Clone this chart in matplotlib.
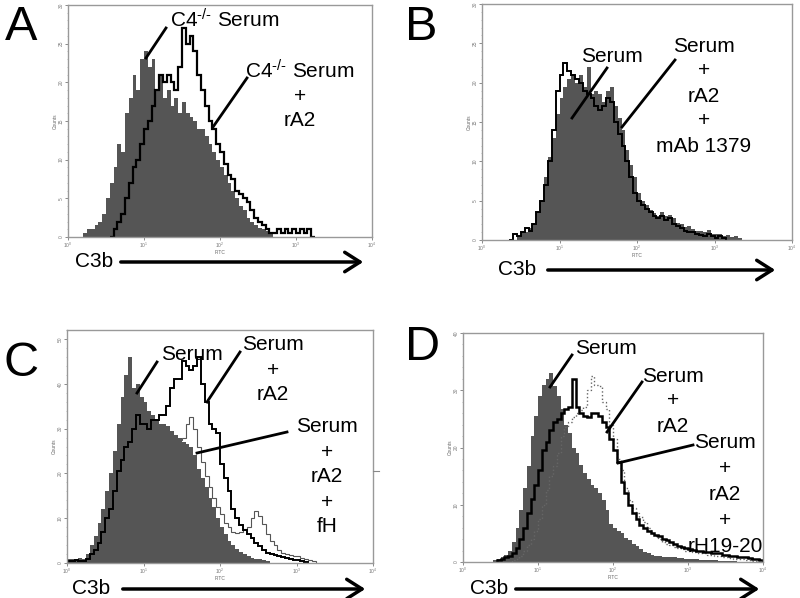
import numpy as np
import matplotlib.pyplot as plt
from matplotlib.lines import Line2D
from matplotlib.patches import FancyArrowPatch
from matplotlib.ticker import FixedLocator, NullLocator, AutoMinorLocator

plt.rcParams['font.family'] = ['Liberation Sans', 'DejaVu Sans']
plt.rcParams['mathtext.fontset'] = 'custom'
plt.rcParams['mathtext.rm'] = 'Liberation Sans'
plt.rcParams['mathtext.it'] = 'Liberation Sans:italic'

BIN = 0.05  # histogram bin width (decades of FITC)

############## DATA (counts per bin) ##############

## Panel A: C4-/- serum (filled) vs C4-/- serum + rA2 (black line)
a_fill_start = 0.20
a_fill = [0.5, 1, 1, 1.5, 2, 3, 5, 7, 9, 12, 11, 16, 18, 21, 19, 23, 24, 22, 23, 19,
          21, 18, 19, 17, 18, 16, 17.5, 16, 15.5, 15, 14, 14, 13, 12, 11, 10, 9, 8, 7, 6,
          5, 4, 3.5, 2.5, 2, 1.5, 1.2, 1, 0.8, 0.5]
a_line_start = 0.55
a_line = [0, 1, 2, 3, 5, 7, 9, 10, 12, 14, 15, 17, 19, 21, 20, 21, 20, 19, 22, 27,
          25, 26, 24, 21, 19, 17, 15, 14, 12, 11, 9.5, 8, 7.5, 6, 5.5, 5, 4.5, 3.5, 2.5, 2,
          1.5, 1, 0.5, 0.5, 1, 0.5, 1, 0.5, 1, 0.5, 1, 0.5, 1, 0]

## Panel B: serum (filled) vs serum + rA2 + mAb 1379 (black line)
b_fill_start = 0.45
b_fill = [0.5, 1, 1, 1.5, 2, 3.5, 5, 8, 10.5, 13, 16, 18, 19.5, 20.5, 21, 20, 21, 19.5, 22, 18.5,
          19, 18.5, 17.5, 19, 19.5, 17, 15.5, 14, 11.5, 9.5, 8, 6, 5, 4.5, 3.8, 3.4, 3, 3.5, 3, 3.2,
          2.8, 2.2, 2, 1.6, 1.8, 1.4, 1.2, 1.2, 1, 1.3, 0.8, 0.7, 0.8, 0.5, 0.6, 0.4, 0.5, 0.3]
b_line_start = 0.35
b_line = [0, 0.8, 0.5, 1, 1.5, 1.2, 2, 3.5, 5, 7, 10, 14, 19, 21, 22.5, 21.5, 21, 20.5, 20, 19,
          18.5, 18, 17, 16.5, 17, 18, 17.5, 15, 13.5, 12, 10, 8, 6, 5, 4.5, 4, 3.5, 3, 2.8, 3,
          2.5, 2.8, 2, 1.8, 1.5, 1.2, 1, 1, 0.8, 0.6, 0.5, 0.8, 0.5, 0.3, 0.5, 0.2]

## Panel C: serum (filled), serum + rA2 (black), serum + rA2 + fH (grey)
c_fill_start = 0.00
c_fill = [0.8, 1, 0.8, 1.2, 1, 2, 4, 6, 9, 12, 16, 20, 25, 31, 37, 42, 46, 39, 40, 37,
          36, 34, 33, 32, 31, 31, 30.5, 29.5, 28.5, 28, 27, 26.5, 26, 24, 21, 19, 17, 14.5, 12.5, 10,
          8, 6.5, 5, 4, 3.2, 2.5, 2, 1.5, 1.2, 1, 0.8, 0.6, 0.4]
c_rA2_start = 0.00
c_rA2 = [0.5, 0.4, 0.6, 0.5, 0.5, 1, 2, 3, 4.5, 7, 10, 12, 16, 20.5, 23, 26, 27, 30, 33, 31,
         31, 30, 32, 32, 33, 33, 35, 39, 41, 41, 45, 44, 43, 44, 46, 40, 36, 31, 30, 29,
         22, 19, 16, 12, 10, 8.5, 7.4, 6.5, 5.5, 4.5, 3.8, 3, 2.2, 2, 1.8, 1.5, 1.4, 1.2, 1, 0.7,
         0.6, 0.4, 0.2]
c_fH_start = 0.30
c_fH = [1, 2, 3.5, 5, 7, 10, 12.5, 17, 21, 24, 26, 27.5, 29, 30, 30.5, 31, 31, 30.5, 30, 29,
        28.5, 28, 27.5, 27.5, 28, 31, 32.5, 30, 26, 22.5, 19.5, 17, 14.5, 12.5, 11, 9, 8, 7, 6.7, 7,
        7.5, 8, 10, 11.6, 10.5, 8.7, 6.5, 5, 4, 3, 2.2, 2, 1.8, 1.6, 1.5, 1.2, 1, 0.7, 0.4]

## Panel D: serum (filled), serum + rA2 (black), serum + rA2 + rH19-20 (dotted)
d_fill_start = 0.40
d_fill = [0.3, 0.5, 0.8, 1.2, 2, 3.5, 6, 9, 13, 16.7, 22, 25.5, 29, 31, 32, 33, 30.8, 29, 26.7, 24,
          22.6, 20, 19, 17, 15.5, 14.5, 13.5, 13, 12, 10.8, 9, 6.7, 6, 5.5, 5, 4.2, 3.8, 3.2, 2.8, 2.2,
          1.8, 1.5, 1.3, 1.1, 1, 0.9, 0.9, 0.8, 0.8, 0.7, 0.7, 0.6, 0.6, 0.5, 0.5, 0.4, 0.4, 0.3, 0.3, 0.3,
          0.2, 0.2, 0.2, 0.2, 0.1]
d_rA2_start = 0.45
d_rA2 = [0.3, 0.5, 0.8, 1, 1.5, 2.5, 4, 6, 8.5, 11, 13.5, 16, 19.5, 21, 23, 24.4, 25, 26, 26.7, 27,
         32, 27, 26, 25.5, 25.3, 26, 26, 25.5, 24.4, 23.5, 21.4, 19.5, 17.5, 14, 12, 10, 8.5, 7.5, 6.5, 6,
         5.5, 5, 4.8, 4.5, 4, 3.8, 3.5, 3.2, 2.8, 2.6, 2.4, 2.2, 2.1, 2, 2, 1.8, 1.8, 1.6, 1.5, 1.5,
         1.3, 1.2, 1.1, 1, 0.9, 0.9, 0.8, 0.7, 0.6, 0.5, 0.4]
d_rH_start = 0.65
d_rH = [0.3, 0.5, 1, 2, 3, 4, 5.5, 7.5, 10, 12.5, 15, 16.7, 19, 22, 23.5, 24.5, 25.3, 26, 26.5, 27,
        30, 32.5, 31, 30.8, 28, 26.7, 24, 21.4, 18, 16, 13, 10.8, 9.5, 8.5, 7.9, 7, 6, 5, 4.5, 4,
        3.5, 3.2, 3, 2.6, 2.4, 2.2, 2, 2, 1.8, 1.6, 1.5, 1.5, 1.3, 1.2, 1.1, 1, 0.9, 0.8, 0.7, 0.6,
        0.5, 0.5, 0.4, 0.3, 0.2, 0.2]

y_max = {'A': 30, 'B': 30, 'C': 52, 'D': 40}
y_step = {'A': 5, 'B': 5, 'C': 10, 'D': 10}

############## LAYOUT (pixel boxes) ##############
W, H = 800, 598
FILL = '#555555'

fig = plt.figure(figsize=(W / 100, H / 100), dpi=100)


def P(x, y):
    return (x / W, 1 - y / H)


def edges(start, counts):
    return 10 ** (start + BIN * np.arange(len(counts) + 1))


def make_ax(x0, y0, x1, y1, key):
    ax = fig.add_axes([x0 / W, 1 - y1 / H, (x1 - x0) / W, (y1 - y0) / H])
    ax.set_xscale('log')
    ax.set_xlim(1, 1e4)
    ax.set_ylim(0, y_max[key])
    ax.xaxis.set_major_locator(FixedLocator([1, 10, 100, 1000, 10000]))
    ax.xaxis.set_minor_locator(NullLocator())
    ax.set_yticks(np.arange(0, y_max[key] + 0.1, y_step[key]))
    ax.yaxis.set_minor_locator(AutoMinorLocator(5))
    ax.tick_params(labelsize=3.5, length=2, width=0.6, colors='#777777', pad=1)
    ax.tick_params(which='minor', length=1, width=0.4, colors='#999999')
    for lab in ax.get_yticklabels():
        lab.set_rotation(90)
        lab.set_va('center')
    for s in ax.spines.values():
        s.set_color('#999999')
        s.set_linewidth(1.0)
    ax.set_xlabel('FITC', fontsize=3.5, labelpad=0, color='#666666')
    ax.set_ylabel('Counts', fontsize=3.5, labelpad=1, color='#666666')
    return ax


def txt(x, y, s, size=15, **kw):
    fig.text(x / W, 1 - y / H, s, fontsize=size, ha='center', va='center', **kw)


def stack(x, y0, lines, dy=25):
    for i, s in enumerate(lines):
        txt(x, y0 + i * dy, s)


def pointer(x0, y0, x1, y1):
    fig.add_artist(Line2D([x0 / W, x1 / W], [1 - y0 / H, 1 - y1 / H],
                          color='black', lw=2, transform=fig.transFigure))


def c3b(x_text, x0, x1, y):
    txt(x_text, y, 'C3b')
    fig.add_artist(FancyArrowPatch(P(x0, y), P(x1, y), transform=fig.transFigure,
                                   arrowstyle='->,head_length=0.55,head_width=0.35',
                                   mutation_scale=20, lw=2.5, color='black'))


C4 = r'C4$^{\text{-/-}}$ Serum'

############## PANEL A ##############
axA = make_ax(68, 5, 372, 237, 'A')
axA.stairs(a_fill, edges(a_fill_start, a_fill), fill=True, color=FILL, lw=0)
axA.stairs(a_line, edges(a_line_start, a_line), color='black', lw=1.6)
txt(21, 28, 'A', size=35)
txt(225, 20, C4)
stack(300, 71, [C4, '+', 'rA2'])
pointer(146, 58, 166, 28)
pointer(213, 127, 247, 78)
c3b(94, 118, 366, 262)

############## PANEL B ##############
axB = make_ax(482, 4, 792, 240, 'B')
axB.stairs(b_fill, edges(b_fill_start, b_fill), fill=True, color=FILL, lw=0)
axB.stairs(b_line, edges(b_line_start, b_line), color='black', lw=1.4)
txt(421, 28, 'B', size=35)
txt(612, 56, 'Serum')
stack(704, 46, ['Serum', '+', 'rA2', '+', 'mAb 1379'])
pointer(572, 118, 607, 68)
pointer(622, 127, 675, 60)
c3b(517, 545, 778, 270)

############## PANEL C ##############
axC = make_ax(67, 330, 373, 563, 'C')
axC.stairs(c_fill, edges(c_fill_start, c_fill), fill=True, color=FILL, lw=0)
axC.stairs(c_fH, edges(c_fH_start, c_fH), color='#555555', lw=0.8)
axC.stairs(c_rA2, edges(c_rA2_start, c_rA2), color='black', lw=1.4)
fig.add_artist(Line2D([373 / W, 379 / W], [1 - 471 / H, 1 - 471 / H],
                      color='#888888', lw=0.8, transform=fig.transFigure))
txt(21, 363, 'C', size=35)
txt(192, 354, 'Serum')
stack(273, 345, ['Serum', '+', 'rA2'])
stack(327, 427, ['Serum', '+', 'rA2', '+', 'fH'])
pointer(137, 393, 157, 362)
pointer(207, 402, 240, 352)
pointer(197, 453, 287, 432)
c3b(91, 120, 368, 589)

############## PANEL D ##############
axD = make_ax(463, 333, 763, 562, 'D')
axD.stairs(d_fill, edges(d_fill_start, d_fill), fill=True, color=FILL, lw=0)
axD.stairs(d_rH, edges(d_rH_start, d_rH), color='#666666', lw=1.0, ls=':')
axD.stairs(d_rA2, edges(d_rA2_start, d_rA2), color='black', lw=1.8)
txt(423, 348, 'D', size=35)
txt(606, 348, 'Serum')
stack(673, 376, ['Serum', '+', 'rA2'])
stack(725, 442, ['Serum', '+', 'rA2', '+', 'rH19-20'], dy=26)
pointer(550, 387, 572, 355)
pointer(607, 432, 642, 382)
pointer(618, 463, 693, 445)
c3b(489, 513, 762, 589)

fig.savefig('out.png', dpi=100)
